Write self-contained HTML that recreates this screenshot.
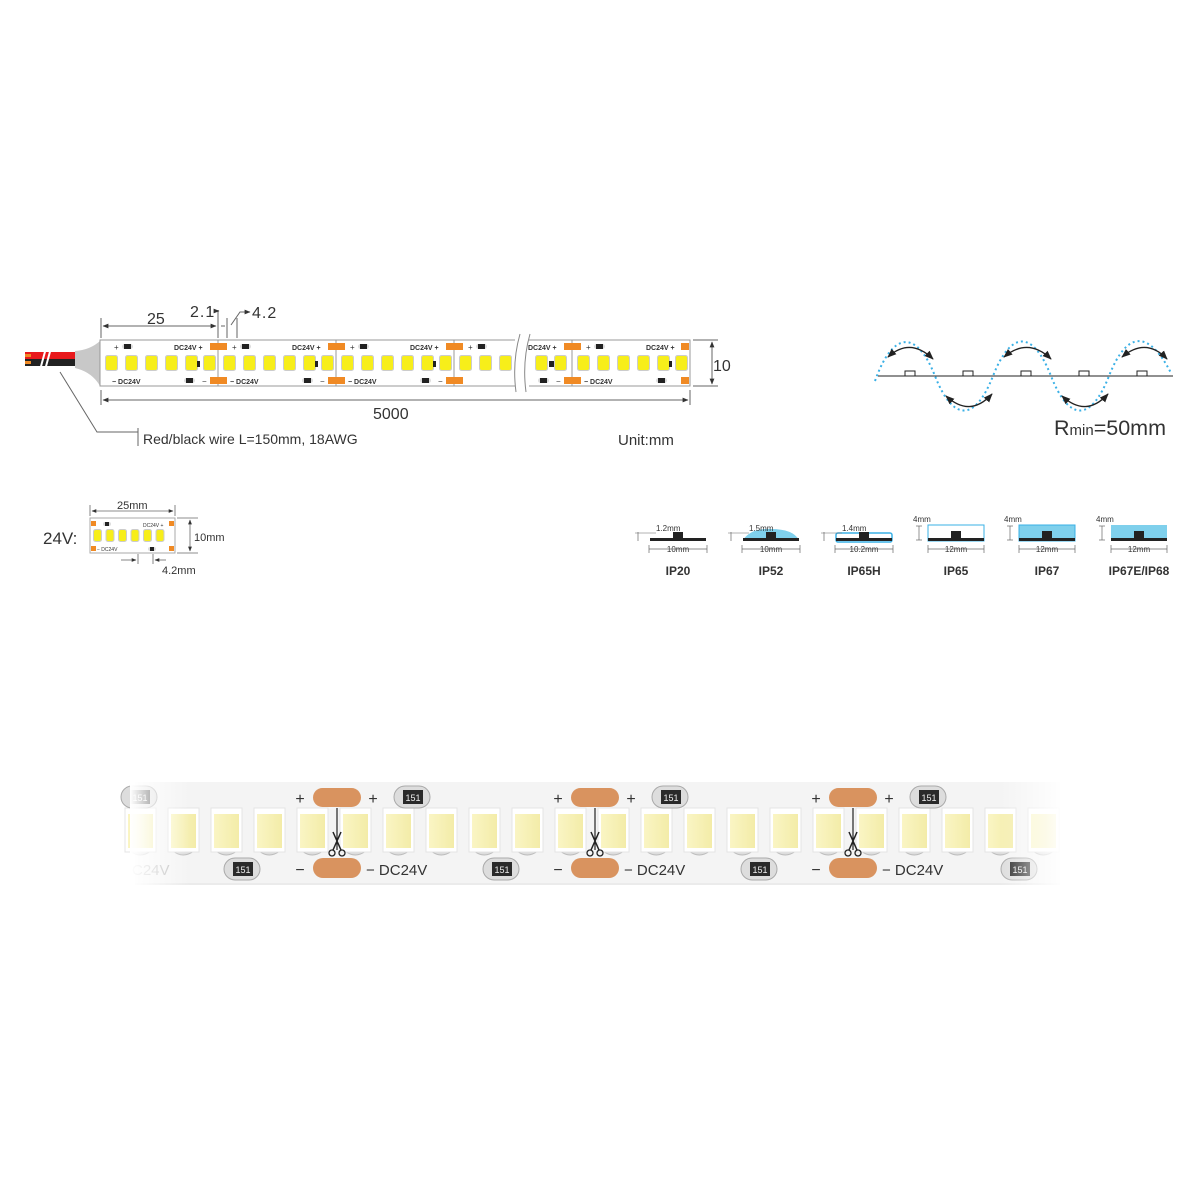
<!DOCTYPE html>
<html><head><meta charset="utf-8"><style>
html,body{margin:0;padding:0;background:#fff}
svg{display:block}
text{font-family:"Liberation Sans",Arial,sans-serif}
</style></head><body>
<svg id="s" width="1200" height="1200" viewBox="0 0 1200 1200" xmlns="http://www.w3.org/2000/svg">
<defs>
<marker id="ar" viewBox="0 0 10 10" refX="9" refY="5" markerWidth="6" markerHeight="6" orient="auto-start-reverse"><path d="M0,1 L10,5 L0,9z" fill="#333"/></marker>
<marker id="ab" viewBox="0 0 10 10" refX="9" refY="5" markerWidth="7" markerHeight="7" orient="auto-start-reverse"><path d="M0,1 L10,5 L0,9z" fill="#222"/></marker>
<linearGradient id="fl" x1="0" x2="1"><stop offset="0" stop-color="#fff" stop-opacity="1"/><stop offset="1" stop-color="#fff" stop-opacity="0"/></linearGradient>
<linearGradient id="fr" x1="0" x2="1"><stop offset="0" stop-color="#fff" stop-opacity="0"/><stop offset="1" stop-color="#fff" stop-opacity="1"/></linearGradient>
<linearGradient id="led" x1="0" x2="1"><stop offset="0" stop-color="#faf5c4"/><stop offset="1" stop-color="#f3eca8"/></linearGradient>
</defs>

<g id="wire">
<rect x="25" y="352" width="75" height="7" fill="#e8191c"/>
<rect x="25" y="359" width="75" height="7" fill="#222"/>
<rect x="25" y="354" width="6" height="3" fill="#f08a24"/>
<rect x="25" y="361" width="6" height="3" fill="#f08a24"/>
<line x1="40" y1="370" x2="46" y2="348" stroke="#fff" stroke-width="2"/>
<line x1="45" y1="370" x2="51" y2="348" stroke="#fff" stroke-width="2"/>
<path d="M75,351 Q90,350 100,341 L112,341 L112,386 L100,386 Q92,372 75,368 Z" fill="#c8c8c8"/>
</g>
<rect x="100" y="340" width="590" height="46" fill="#fff" stroke="#999" stroke-width="1"/>
<rect x="515" y="338" width="14" height="50" fill="#fff"/>
<path d="M520,334 Q512,362 516,392 M530,334 Q522,362 526,392" fill="none" stroke="#888" stroke-width="1"/>
<g id="topstrip"></g>

<g stroke="#666" stroke-width="1" fill="none">
<line x1="101" y1="318" x2="101" y2="338"/>
<line x1="218" y1="310" x2="218" y2="338"/>
<line x1="227" y1="318" x2="227" y2="338"/>
<line x1="237" y1="318" x2="237" y2="338"/>
<line x1="103" y1="326" x2="216" y2="326" marker-start="url(#ar)" marker-end="url(#ar)"/>
<line x1="221" y1="326" x2="225" y2="326"/>
<polyline points="214,311 219,311" marker-end="url(#ar)"/>
<polyline points="231,325 240,312 250,312" marker-end="url(#ar)"/>
<line x1="101" y1="390" x2="101" y2="405"/>
<line x1="690" y1="390" x2="690" y2="405"/>
<line x1="103" y1="400" x2="688" y2="400" marker-start="url(#ar)" marker-end="url(#ar)"/>
<line x1="693" y1="340" x2="718" y2="340"/>
<line x1="693" y1="386" x2="718" y2="386"/>
<line x1="712" y1="342" x2="712" y2="384" marker-start="url(#ar)" marker-end="url(#ar)"/>
<polyline points="60,372 97,432 138,432"/>
<line x1="138" y1="428" x2="138" y2="446"/>
</g>
<text x="147" y="324" font-size="16" fill="#333">25</text>
<text x="190" y="317" font-size="16" fill="#333" letter-spacing="1">2.1</text>
<text x="252" y="318" font-size="16" fill="#333" letter-spacing="1">4.2</text>
<text x="713" y="371" font-size="16" fill="#333">10</text>
<text x="373" y="419" font-size="16" fill="#333">5000</text>
<text x="143" y="444" font-size="14" fill="#333">Red/black wire L=150mm, 18AWG</text>
<text x="618" y="445" font-size="15" fill="#333">Unit:mm</text>

<g>
<line x1="878" y1="376" x2="1173" y2="376" stroke="#222" stroke-width="1"/>
<path d="M875,381 C893,330 917,330 935,376 C953,422 975,422 993,376 C1011,330 1033,330 1051,376 C1069,422 1091,422 1109,376 C1127,330 1149,330 1171,373" fill="none" stroke="#3ab0e6" stroke-width="2" stroke-dasharray="2,3"/>
<g fill="#fff" stroke="#222" stroke-width="1">
<rect x="905" y="371" width="10" height="5"/><rect x="963" y="371" width="10" height="5"/><rect x="1021" y="371" width="10" height="5"/><rect x="1079" y="371" width="10" height="5"/><rect x="1137" y="371" width="10" height="5"/>
</g>
<g fill="none" stroke="#222" stroke-width="1.3">
<path d="M888,357 Q910,337 933,359" marker-start="url(#ab)" marker-end="url(#ab)"/>
<path d="M1004,357 Q1028,337 1051,359" marker-start="url(#ab)" marker-end="url(#ab)"/>
<path d="M1122,357 Q1146,337 1167,359" marker-start="url(#ab)" marker-end="url(#ab)"/>
<path d="M946,396 Q970,418 992,394" marker-start="url(#ab)" marker-end="url(#ab)"/>
<path d="M1062,396 Q1086,418 1108,394" marker-start="url(#ab)" marker-end="url(#ab)"/>
</g>
<text x="1054" y="435" font-size="21.5" fill="#333">R<tspan font-size="15">min</tspan>=50mm</text>
</g>

<text x="43" y="544" font-size="17" fill="#333">24V:</text>
<rect x="90" y="518" width="85" height="35" fill="#fff" stroke="#aaa"/>
<g id="small"></g>
<g stroke="#666" fill="none" stroke-width="0.8">
<line x1="90" y1="505" x2="90" y2="516"/><line x1="175" y1="505" x2="175" y2="516"/>
<line x1="92" y1="511" x2="173" y2="511" marker-start="url(#ar)" marker-end="url(#ar)"/>
<line x1="177" y1="518" x2="198" y2="518"/><line x1="177" y1="553" x2="198" y2="553"/>
<line x1="190" y1="520" x2="190" y2="551" marker-start="url(#ar)" marker-end="url(#ar)"/>
<line x1="121" y1="560" x2="136" y2="560" marker-end="url(#ar)"/>
<line x1="138" y1="554" x2="138" y2="564"/><line x1="153" y1="554" x2="153" y2="564"/>
<line x1="166" y1="560" x2="155" y2="560" marker-end="url(#ar)"/>
</g>
<text x="117" y="509" font-size="11" fill="#333">25mm</text>
<text x="194" y="541" font-size="11" fill="#333">10mm</text>
<text x="162" y="574" font-size="11" fill="#333">4.2mm</text>

<g id="ip" font-size="12" fill="#333"></g>

<rect x="135" y="782" width="925" height="103" fill="#f4f4f4"/>
<line x1="135" y1="884" x2="1060" y2="884" stroke="#e2e2e2"/>
<g id="photo"></g>
<rect x="130" y="778" width="60" height="112" fill="url(#fl)"/>
<rect x="1000" y="778" width="65" height="112" fill="url(#fr)"/>
</svg>
<script>
const NS="http://www.w3.org/2000/svg";
function el(p,t,a,txt){const e=document.createElementNS(NS,t);for(const k in a)e.setAttribute(k,a[k]);if(txt!==undefined)e.textContent=txt;p.appendChild(e);return e;}
const ts=document.getElementById('topstrip');
const segs=[100,218,336,454,572];
function led(g,x,y,w,h){el(g,'rect',{x:x-1,y:y-1,width:w+2,height:h+2,rx:2.5,fill:'#ccc'});el(g,'rect',{x:x,y:y,width:w,height:h,rx:2,fill:'#f7ee1a'});}
function res(g,x,y,w,h){el(g,'rect',{x:x,y:y,width:w,height:h,rx:h/2,fill:'#ddd'});el(g,'rect',{x:x+2,y:y,width:w-4,height:h,fill:'#222'});}
segs.forEach((s,i)=>{
  for(let k=0;k<6;k++){let x=s+6+20*k; if(k==5)x=s+104; if(s==454&&x>508)continue; led(ts,x,356,11,14);}
  el(ts,'rect',{x:s+97,y:361,width:3,height:6,fill:'#222'});
  if(s!=454){el(ts,'text',{x:s+12,y:384,'font-size':7,'font-weight':'bold',fill:'#333'},'− DC24V');}
  el(ts,'text',{x:s+74,y:350,'font-size':7,'font-weight':'bold',fill:'#333'},'DC24V +');
  res(ts,s+22,344,11,5); el(ts,'text',{x:s+14,y:350,'font-size':8,fill:'#333'},'+');
  res(ts,s+84,378,11,5);
});
led(ts,536,356,11,14);led(ts,555,356,11,14);
el(ts,'rect',{x:549,y:361,width:3,height:6,fill:'#222'});
[218,336,454,572].forEach(c=>{
  el(ts,'line',{x1:c,y1:340,x2:c,y2:386,stroke:'#999'});
  el(ts,'rect',{x:c-8,y:343,width:17,height:7,fill:'#f08a24'});
  el(ts,'rect',{x:c-8,y:377,width:17,height:7,fill:'#f08a24'});
  el(ts,'text',{x:c-16,y:384,'font-size':8,fill:'#333'},'−');
});
el(ts,'rect',{x:681,y:343,width:8,height:7,fill:'#f08a24'});
el(ts,'rect',{x:681,y:377,width:8,height:7,fill:'#f08a24'});
const sm=document.getElementById('small');
for(let k=0;k<6;k++){led(sm,94+12.5*k,530,7,11);}
el(sm,'rect',{x:91,y:521,width:5,height:5,fill:'#f08a24'});el(sm,'rect',{x:169,y:521,width:5,height:5,fill:'#f08a24'});
el(sm,'rect',{x:91,y:546,width:5,height:5,fill:'#f08a24'});el(sm,'rect',{x:169,y:546,width:5,height:5,fill:'#f08a24'});
res(sm,103,522,8,4);res(sm,148,547,8,4);
el(sm,'text',{x:143,y:527,'font-size':5,fill:'#333'},'DC24V +');
el(sm,'text',{x:97,y:551,'font-size':5,fill:'#333'},'− DC24V');
const ip=document.getElementById('ip');
const items=[[678,'IP20','10mm','1.2mm',0],[771,'IP52','10mm','1.5mm',1],[864,'IP65H','10.2mm','1.4mm',2],[956,'IP65','12mm','4mm',3],[1047,'IP67','12mm','4mm',4],[1139,'IP67E/IP68','12mm','4mm',5]];
items.forEach(([cx,lab,w,h,t])=>{
  const half=t>=3?28:29;
  el(ip,'text',{x:cx,y:575,'text-anchor':'middle','font-size':12,'font-weight':'bold',fill:'#333'},lab);
  el(ip,'text',{x:cx,y:552,'text-anchor':'middle','font-size':8,fill:'#333'},w);
  el(ip,'line',{x1:cx-half,y1:549,x2:cx+half,y2:549,stroke:'#666','stroke-width':0.7});
  el(ip,'line',{x1:cx-half,y1:545,x2:cx-half,y2:553,stroke:'#666','stroke-width':0.7});
  el(ip,'line',{x1:cx+half,y1:545,x2:cx+half,y2:553,stroke:'#666','stroke-width':0.7});
  if(t==1)el(ip,'path',{d:`M${cx-28},540 Q${cx-20},528 ${cx},529 Q${cx+22},529 ${cx+28},540Z`,fill:'#7fd0ec'});
  if(t==2)el(ip,'rect',{x:cx-28,y:533,width:56,height:9,rx:2,fill:'#fff',stroke:'#3ab0e6','stroke-width':1.5});
  if(t>=3)el(ip,'rect',{x:cx-28,y:525,width:56,height:16,fill:t==3?'#fff':'#7fd0ec',stroke:t==5?'none':'#3ab0e6','stroke-width':1});
  el(ip,'rect',{x:cx-28,y:538,width:56,height:3,fill:'#222'});
  el(ip,'rect',{x:cx-5,y:t>=3?531:532,width:10,height:7,fill:'#222'});
  if(t<3){el(ip,'text',{x:cx-22,y:531,'font-size':8,fill:'#333'},h);
    el(ip,'line',{x1:cx-40,y1:532,x2:cx-40,y2:541,stroke:'#666','stroke-width':0.7});
    el(ip,'line',{x1:cx-43,y1:533,x2:cx-22,y2:533,stroke:'#666','stroke-width':0.5});}
  else{el(ip,'text',{x:cx-43,y:522,'font-size':8,fill:'#333'},h);
    el(ip,'line',{x1:cx-37,y1:526,x2:cx-37,y2:540,stroke:'#666','stroke-width':0.7});
    el(ip,'line',{x1:cx-40,y1:526,x2:cx-34,y2:526,stroke:'#666','stroke-width':0.7});
    el(ip,'line',{x1:cx-40,y1:540,x2:cx-34,y2:540,stroke:'#666','stroke-width':0.7});}
});
const ph=document.getElementById('photo');
for(let k=-1;k<22;k++){const x=170+43*k; if(x<125||x>1070)continue;
  el(ph,'path',{d:`M${x+3},812 Q${x+13},804 ${x+24},812`,fill:'#ddd',stroke:'#bbb'});
  el(ph,'path',{d:`M${x+3},851 Q${x+13},859 ${x+24},851`,fill:'#ddd',stroke:'#bbb'});
  el(ph,'rect',{x:x-2,y:808,width:31,height:44,fill:'#fff',stroke:'#e4e4e4'});
  el(ph,'rect',{x:x+1,y:814,width:25,height:34,fill:'url(#led)'});
}
function pres(x,y){el(ph,'rect',{x:x,y:y,width:36,height:22,rx:11,fill:'#ddd',stroke:'#aaa'});el(ph,'rect',{x:x+9,y:y+4,width:20,height:14,fill:'#2a2a2a'});el(ph,'text',{x:x+19,y:y+15,'text-anchor':'middle','font-size':9,'font-family':'Liberation Serif',fill:'#eee'},'151');}
[337,595,853].forEach(c=>{
  el(ph,'rect',{x:c-24,y:788,width:48,height:19,rx:9.5,fill:'#d9935f'});
  el(ph,'rect',{x:c-24,y:858,width:48,height:20,rx:10,fill:'#d9935f'});
  el(ph,'text',{x:c-37,y:804,'font-size':16,fill:'#333','text-anchor':'middle'},'+');
  el(ph,'text',{x:c+36,y:804,'font-size':16,fill:'#333','text-anchor':'middle'},'+');
  el(ph,'text',{x:c-37,y:875,'font-size':16,fill:'#333','text-anchor':'middle'},'−');
  el(ph,'text',{x:c+29,y:875,'font-size':15,fill:'#333'},'− DC24V');
  el(ph,'line',{x1:c,y1:808,x2:c,y2:850,stroke:'#222','stroke-width':1.2});
  el(ph,'path',{d:`M${c-4},832 L${c+4},850 M${c+4},832 L${c-4},850`,stroke:'#222','stroke-width':1.5,fill:'none'});
  el(ph,'circle',{cx:c-5,cy:853,r:3,fill:'none',stroke:'#222','stroke-width':1.3});
  el(ph,'circle',{cx:c+5,cy:853,r:3,fill:'none',stroke:'#222','stroke-width':1.3});
  pres(c+57,786);
});
pres(121,786);
[218,477,735,995].forEach(x=>pres(x+6,858));
el(ph,'text',{x:132,y:875,'font-size':15,fill:'#bbb'},'C24V');
</script>
</body></html>
